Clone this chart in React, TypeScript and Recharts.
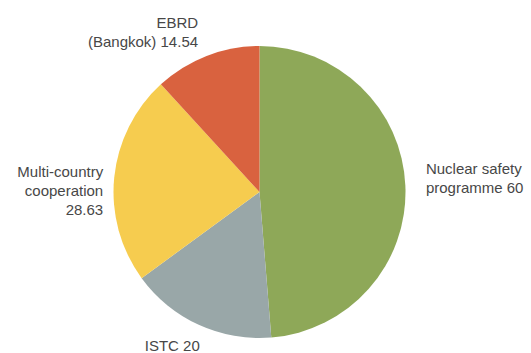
import React from "react";
import { PieChart, Pie, Cell } from "recharts";

// funding by programme
const categories = ["Nuclear safety programme", "ISTC", "Multi-country cooperation", "EBRD (Bangkok)"];
const values = [60, 20, 28.63, 14.54];
// how each category name is broken over lines in the label
const nameLines = [["Nuclear safety", "programme"], ["ISTC"], ["Multi-country", "cooperation"], ["EBRD", "(Bangkok)"]];
const valueOnOwnLine = [false, false, true, false];

const colors = ["#8ea858", "#99a7a8", "#f6cc4f", "#d9623f"];

// label offset from the rim point at the slice's mid angle
const labelLayout = [
  { dx: 20.5, dy: -12, anchor: "start" },
  { dx: -54, dy: 26, anchor: "start" },
  { dx: -11, dy: -0.5, anchor: "end" },
  { dx: -8.5, dy: -28, anchor: "end" },
];

const data = categories.map((name, i) => ({ name, value: values[i] }));

const RAD = Math.PI / 180;

function renderLabel(props: any) {
  const { cx, cy, midAngle, outerRadius, index } = props;
  const px = cx + outerRadius * Math.cos(-midAngle * RAD);
  const py = cy + outerRadius * Math.sin(-midAngle * RAD);
  const lay = labelLayout[index];
  const lines = [...nameLines[index]];
  if (valueOnOwnLine[index]) lines.push(String(values[index]));
  else lines[lines.length - 1] = lines[lines.length - 1] + " " + values[index];
  const x = px + lay.dx;
  return (
    <text
      x={x}
      y={py + lay.dy}
      textAnchor={lay.anchor}
      fill="#474747"
      fontSize={15}
      fontFamily="'Liberation Sans', Arial, sans-serif"
    >
      {lines.map((l, i) => (
        <tspan key={i} x={x} dy={i === 0 ? 0 : 19}>
          {l}
        </tspan>
      ))}
    </text>
  );
}

export default function App() {
  return (
    <div style={{ position: "absolute", left: 0, top: 0, width: 531, height: 353, background: "#fff" }}>
      <PieChart width={531} height={353} margin={{ top: 0, right: 0, bottom: 0, left: 0 }}>
        <Pie
          data={data}
          dataKey="value"
          nameKey="name"
          cx={259.5}
          cy={192}
          outerRadius={146}
          startAngle={90}
          endAngle={-270}
          stroke="none"
          labelLine={false}
          label={renderLabel}
          isAnimationActive={false}
        >
          {data.map((d, i) => (
            <Cell key={d.name} fill={colors[i]} />
          ))}
        </Pie>
      </PieChart>
    </div>
  );
}
